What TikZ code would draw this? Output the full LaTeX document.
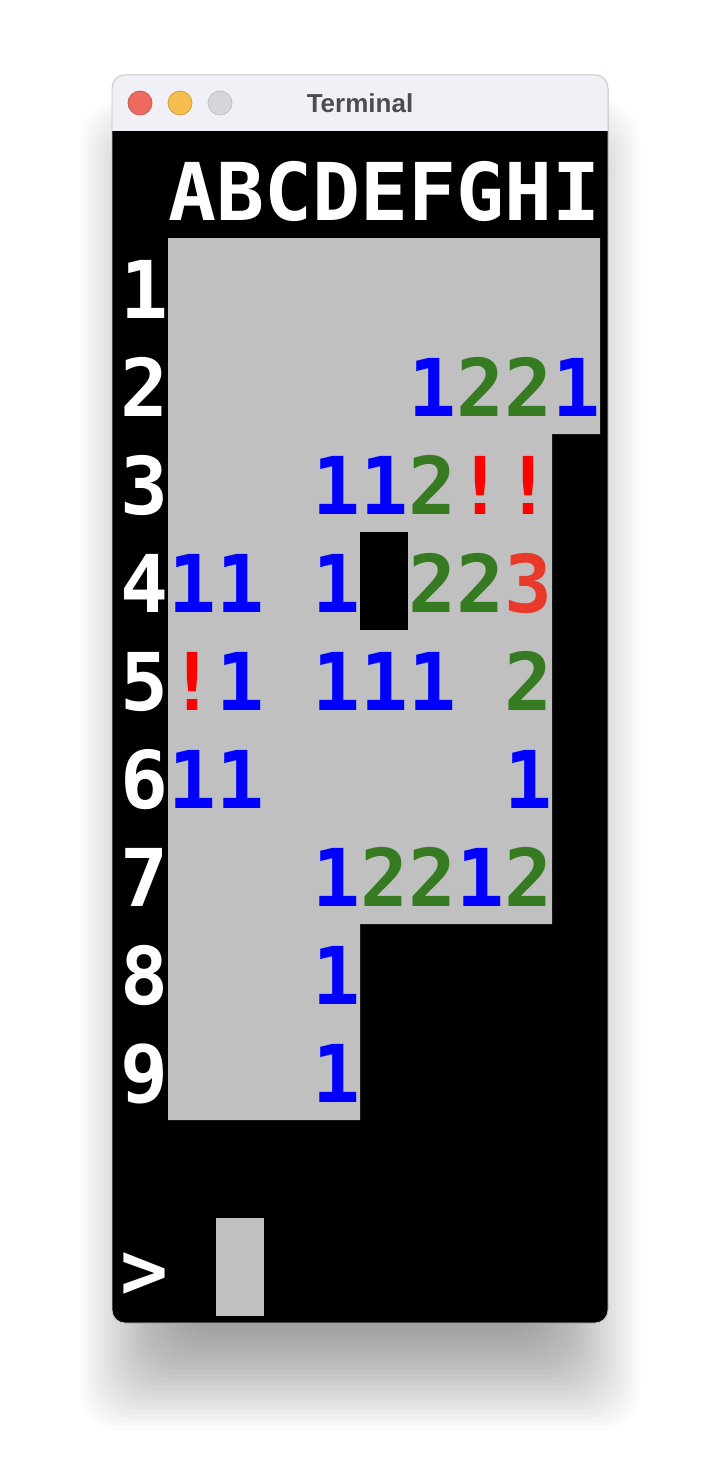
\documentclass[tikz,border=0pt]{standalone}
\usepackage{fontspec}
\newfontfamily\termfont{DejaVu Sans Mono}
\newfontfamily\titlefont{Liberation Sans}

\definecolor{numblue}{HTML}{0000FF}
\definecolor{numgreen}{HTML}{367B22}
\definecolor{flagred}{HTML}{FF0000}
\definecolor{numred}{HTML}{E8392A}
\definecolor{cellgray}{HTML}{C0C0C0}
\definecolor{barface}{HTML}{F0F0F6}
\definecolor{titlegray}{HTML}{4D4D4D}
\definecolor{lightred}{HTML}{EE6A5F}
\definecolor{lightyellow}{HTML}{F5BE4F}
\definecolor{lightgray}{HTML}{D6D5DB}

\begin{document}
\begin{tikzpicture}[
    x=1pt, y=-1pt,
    cell/.style={anchor=base west, inner sep=0pt, font=\termfont\bfseries\fontsize{79.7}{98}\selectfont},
    label/.style={cell, text=white},
    one/.style={cell, text=numblue},
    two/.style={cell, text=numgreen},
    flag/.style={cell, text=flagred},
    three/.style={cell, text=numred},
    light/.style={circle, minimum size=24pt, inner sep=0pt, line width=0.8pt}
]
\useasboundingbox (0,0) rectangle (720,1472);
\fill[white] (0,0) rectangle (720,1472);

% Window shadow
\foreach \i in {1,...,25}
  \fill[black, opacity=0.014, rounded corners=40]
    (180-\i*4, 200-\i*4) rectangle (540+\i*4, 1330+\i*4);

% Window body and title bar
\fill[black, rounded corners=13] (112,75) rectangle (608,1323);
\begin{scope}
  \clip[rounded corners=13] (112,75) rectangle (608,1323);
  \fill[barface] (112,75) rectangle (608,131);
\end{scope}
\draw[black!22, line width=0.8pt, rounded corners=13] (112,75) rectangle (608,1323);

\node[light, fill=lightred, draw=lightred!85!black] (close) at (140,103) {};
\node[light, fill=lightyellow, draw=lightyellow!85!black] (minimize) at (180,103) {};
\node[light, fill=lightgray, draw=lightgray!90!black] (zoom) at (220,103) {};
\node[text=titlegray, font=\titlefont\bfseries\fontsize{26}{30}\selectfont] (title) at (360,103) {Terminal};

% Revealed board
\fill[cellgray] (168,238) -- (600,238) -- (600,434) -- (552,434) -- (552,924)
  -- (360,924) -- (360,1120) -- (168,1120) -- cycle;
\fill[black] (360,532) rectangle (408,630);

% Column letters and row numbers
\foreach \t [count=\x] in {A,B,C,D,E,F,G,H,I}
  \node[label] (h\t) at (120+\x*48, 220) {\t};
\foreach \y in {1,...,9}
  \node[label] (r\y) at (120, 220+\y*98) {\y};

% Cell contents
\foreach \x/\y/\s/\t in {6/2/one/1, 7/2/two/2, 8/2/two/2, 9/2/one/1,
    4/3/one/1, 5/3/one/1, 6/3/two/2, 7/3/flag/!, 8/3/flag/!,
    1/4/one/1, 2/4/one/1, 4/4/one/1, 6/4/two/2, 7/4/two/2, 8/4/three/3,
    1/5/flag/!, 2/5/one/1, 4/5/one/1, 5/5/one/1, 6/5/one/1, 8/5/two/2,
    1/6/one/1, 2/6/one/1, 8/6/one/1,
    4/7/one/1, 5/7/two/2, 6/7/two/2, 7/7/one/1, 8/7/two/2,
    4/8/one/1, 4/9/one/1}
  \node[\s] (c\x\y) at (120+\x*48, 220+\y*98) {\t};

% Prompt and cursor
\node[label] (prompt) at (120, 1298) {>};
\fill[cellgray] (216,1218) rectangle (264,1316);

\end{tikzpicture}
\end{document}
